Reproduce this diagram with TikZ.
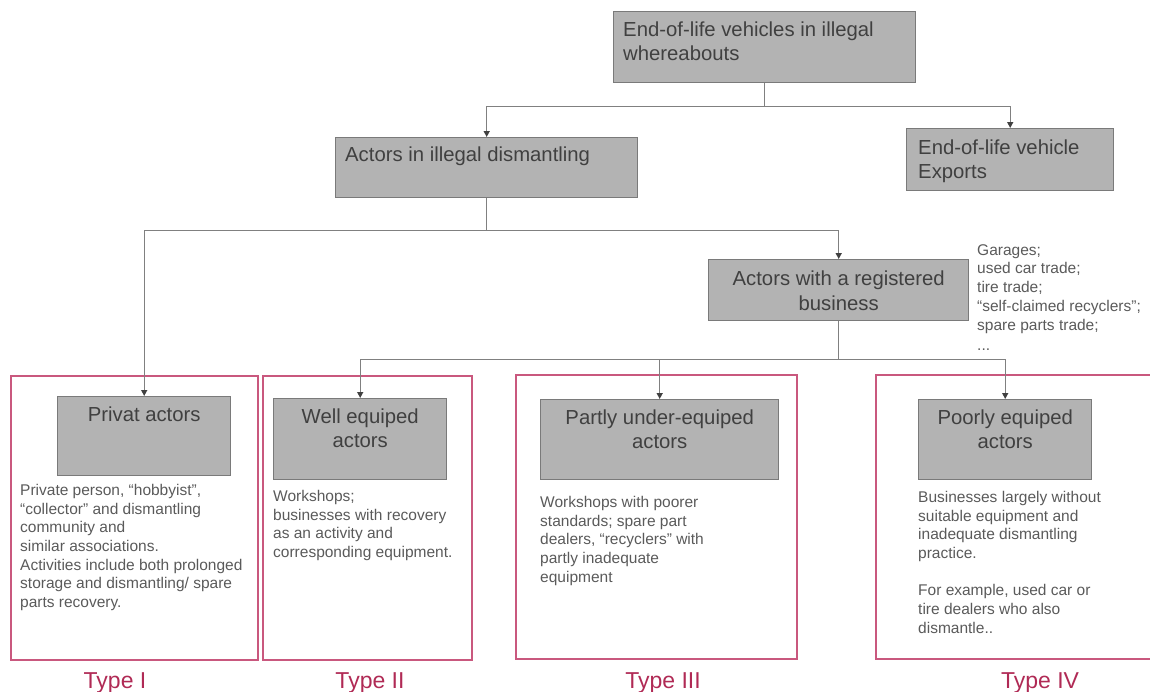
\documentclass[tikz,border=0pt]{standalone}
\usepackage{fontspec}
\setmainfont{Liberation Sans}
\usetikzlibrary{arrows.meta}

\definecolor{boxgrey}{HTML}{B3B3B3}
\definecolor{edgegrey}{HTML}{7A7A7A}
\definecolor{linkgrey}{HTML}{808080}
\definecolor{headtext}{HTML}{404040}
\definecolor{bodytext}{HTML}{5A5A5A}
\definecolor{typerose}{HTML}{C9587E}
\definecolor{typeword}{HTML}{B02A55}

\begin{document}
\begin{tikzpicture}[x=1pt,y=-1pt,
  greybox/.style={draw=edgegrey, line width=1.4pt, fill=boxgrey, inner sep=0pt, anchor=north west},
  headlabel/.style={inner sep=0pt, text=headtext, font=\fontsize{20.3}{24.5}\selectfont},
  note/.style={inner sep=0pt, anchor=north west, align=left, text=bodytext, font=\fontsize{15.5}{18.7}\selectfont},
  typebox/.style={draw=typerose, line width=1.7pt},
  typeword/.style={text=typeword, font=\fontsize{23}{26}\selectfont, anchor=base, inner sep=0pt},
  link/.style={draw=linkgrey, line width=1.4pt},
  arrowlink/.style={link, -{Triangle[length=6pt,width=6pt,color=headtext]}}
]
\useasboundingbox (0,0) rectangle (1150,691);

% type frames
\draw[typebox] (11,376) rectangle (258,660);
\draw[typebox] (263,376) rectangle (472,660);
\draw[typebox] (516,375) rectangle (797,659);
\draw[typebox] (1151,375) -- (876,375) -- (876,659) -- (1151,659);

\node[typeword] (t1) at (115,688) {Type I};
\node[typeword] (t2) at (370,688) {Type II};
\node[typeword] (t3) at (663,688) {Type III};
\node[typeword] (t4) at (1040,688) {Type IV};

% upper levels
\node[greybox, minimum width=302pt, minimum height=71pt] (elv) at (613,11) {};
\node[headlabel, anchor=north west, align=left] (elvtext) at (623,21.5) {End-of-life vehicles in illegal\\whereabouts};

\node[greybox, minimum width=302pt, minimum height=60pt] (dis) at (335,137) {};
\node[headlabel, anchor=north west, align=left] (distext) at (345,146.5) {Actors in illegal dismantling};

\node[greybox, minimum width=207pt, minimum height=62pt] (exp) at (906,128) {};
\node[headlabel, anchor=north west, align=left] (exptext) at (918,139.5) {End-of-life vehicle\\Exports};

\node[greybox, minimum width=260pt, minimum height=61pt] (reg) at (708,259) {};
\node[headlabel, anchor=north, align=center] (regtext) at ([yshift=-12pt]reg.north) {Actors with a registered\\business};

\node[note, font=\fontsize{15.5}{18.8}\selectfont] (regnote) at (977,244) {Garages;\\used car trade;\\tire trade;\\``self-claimed recyclers'';\\spare parts trade;\\[1pt]...};

% actor types
\node[greybox, minimum width=173pt, minimum height=79pt] (priv) at (57,396) {};
\node[headlabel, anchor=north, align=center] (privtext) at ([yshift=-10.5pt]priv.north) {Privat actors};

\node[greybox, minimum width=173pt, minimum height=81pt] (well) at (273,398) {};
\node[headlabel, anchor=north, align=center] (welltext) at ([yshift=-10.5pt]well.north) {Well equiped\\actors};

\node[greybox, minimum width=238pt, minimum height=80pt] (part) at (540,399) {};
\node[headlabel, anchor=north, align=center] (parttext) at ([yshift=-10.5pt]part.north) {Partly under-equiped\\actors};

\node[greybox, minimum width=173pt, minimum height=80pt] (poor) at (918,399) {};
\node[headlabel, anchor=north, align=center] (poortext) at ([yshift=-10.5pt]poor.north) {Poorly equiped\\actors};

% descriptions
\node[note] (privnote) at (20,484) {Private person, ``hobbyist'',\\``collector'' and dismantling\\community and\\similar associations.\\Activities include both prolonged\\storage and dismantling/ spare\\parts recovery.};
\node[note] (wellnote) at (273,490) {Workshops;\\businesses with recovery\\as an activity and\\corresponding equipment.};
\node[note] (partnote) at (540,496) {Workshops with poorer\\standards; spare part\\dealers, ``recyclers'' with\\partly inadequate\\equipment};
\node[note] (poornote) at (918,491) {Businesses largely without\\suitable equipment and\\inadequate dismantling\\practice.\\[18.7pt]For example, used car or\\tire dealers who also\\dismantle..};

% connectors
\path (elv.south) ++(0,23) coordinate (j1);
\draw[link] (elv.south) -- (j1);
\draw[arrowlink] (j1) -| (dis.north);
\draw[arrowlink] (j1) -| (exp.north);

\path (dis.south) ++(0,32) coordinate (j2);
\draw[link] (dis.south) -- (j2);
\draw[arrowlink] (j2) -| (priv.north);
\draw[arrowlink] (j2) -| (reg.north);

\path (reg.south) ++(0,38) coordinate (j3);
\draw[link] (reg.south) -- (j3);
\draw[arrowlink] (j3) -| (well.north);
\draw[arrowlink] (j3) -| (part.north);
\draw[arrowlink] (j3) -| (poor.north);
\end{tikzpicture}
\end{document}
